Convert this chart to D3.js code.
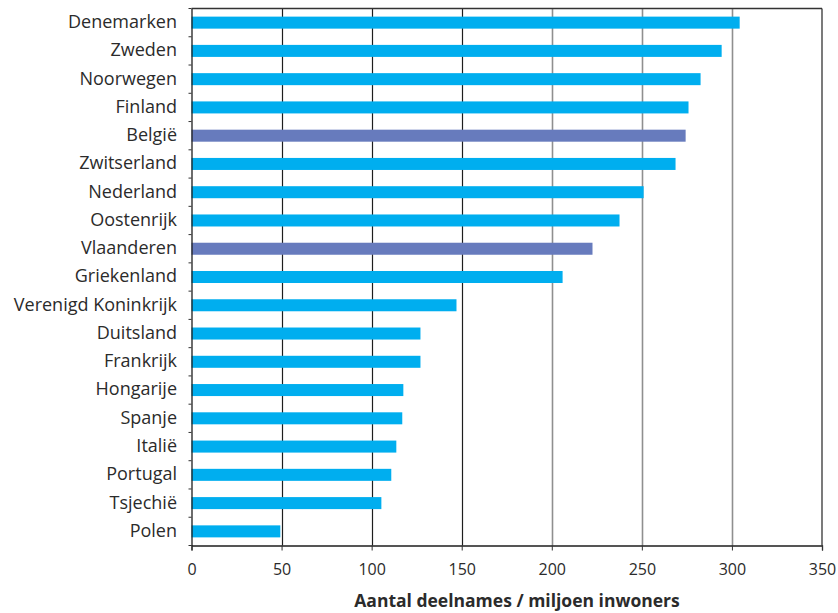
<!DOCTYPE html>
<html><head><meta charset="utf-8">
<script src="https://cdn.jsdelivr.net/npm/d3@7"></script>
<style>body{margin:0;background:#fff}svg{display:block}text{font-family:"Open Sans",sans-serif;fill:#2b2b2b}</style>
</head><body>
<script>
const categories = ["Denemarken","Zweden","Noorwegen","Finland","België","Zwitserland","Nederland","Oostenrijk","Vlaanderen","Griekenland","Verenigd Koninkrijk","Duitsland","Frankrijk","Hongarije","Spanje","Italië","Portugal","Tsjechië","Polen"];
const values = [304.3,294.3,282.6,275.9,274.3,268.7,251,237.6,222.6,206,147.1,127.1,127.1,117.6,117,113.7,110.9,105.4,49.3];
const highlighted = ["België","Vlaanderen"];
const xTicks = [0,50,100,150,200,250,300,350];
const xTitle = "Aantal deelnames / miljoen inwoners";

const W=838,H=613;
const m={left:191.5,right:16,top:8.5,bottom:67.5};
const svg=d3.select("body").append("svg").attr("width",W).attr("height",H);
const x=d3.scaleLinear().domain([0,350]).range([m.left,W-m.right]);
const y=d3.scaleBand().domain(categories).range([m.top,H-m.bottom]).paddingInner(0.575).paddingOuter(0.2875);
const yb=d3.scaleBand().domain(categories).range([m.top,H-m.bottom]);

// gridlines
svg.append("g").selectAll("line").data(xTicks.filter(d=>d>0&&d<350)).join("line")
 .attr("x1",d=>Math.round(x(d))+0.5).attr("x2",d=>Math.round(x(d))+0.5)
 .attr("y1",m.top).attr("y2",H-m.bottom)
 .attr("stroke",d=>d<=150?"#1e1e1e":"#8f8f8f").attr("stroke-width",d=>d<=150?1.2:1.6);

// bars
svg.append("g").selectAll("rect").data(categories).join("rect")
 .attr("x",x(0)).attr("y",d=>y(d)).attr("height",y.bandwidth())
 .attr("width",(d,i)=>x(values[i])-x(0))
 .attr("fill",d=>highlighted.includes(d)?"#677bbd":"#00aeef");

// frame top/right
svg.append("line").attr("x1",m.left).attr("x2",x(350)).attr("y1",m.top).attr("y2",m.top).attr("stroke","#333").attr("stroke-width",1.3);
svg.append("line").attr("x1",x(350)).attr("x2",x(350)).attr("y1",m.top).attr("y2",H-m.bottom).attr("stroke","#333").attr("stroke-width",1.3);

// x axis
const gx=svg.append("g").attr("transform",`translate(0,${H-m.bottom})`)
 .call(d3.axisBottom(x).tickValues(xTicks).tickSize(5).tickPadding(13));
gx.select(".domain").attr("stroke","#1e1e1e").attr("stroke-width",1.3);
gx.selectAll(".tick line").attr("stroke","#333");
gx.selectAll("text").style("font-size","16px").attr("fill","#2b2b2b");

// y axis
const gy=svg.append("g").attr("transform",`translate(${m.left},0)`)
 .call(d3.axisLeft(yb).tickSize(0).tickPadding(14.5));
gy.select(".domain").attr("stroke","#1e1e1e").attr("stroke-width",1.3);
gy.selectAll("text").style("font-size","18px").attr("fill","#2b2b2b").attr("dy","0.3em");
// boundary ticks
svg.append("g").selectAll("line").data(d3.range(categories.length+1)).join("line")
 .attr("x1",m.left-3).attr("x2",m.left)
 .attr("y1",i=>m.top+i*yb.step()).attr("y2",i=>m.top+i*yb.step())
 .attr("stroke","#333");

svg.append("text").attr("x",517).attr("y",607).attr("text-anchor","middle")
 .style("font-size","17.5px").style("font-weight","bold").text(xTitle);
</script>
</body></html>
